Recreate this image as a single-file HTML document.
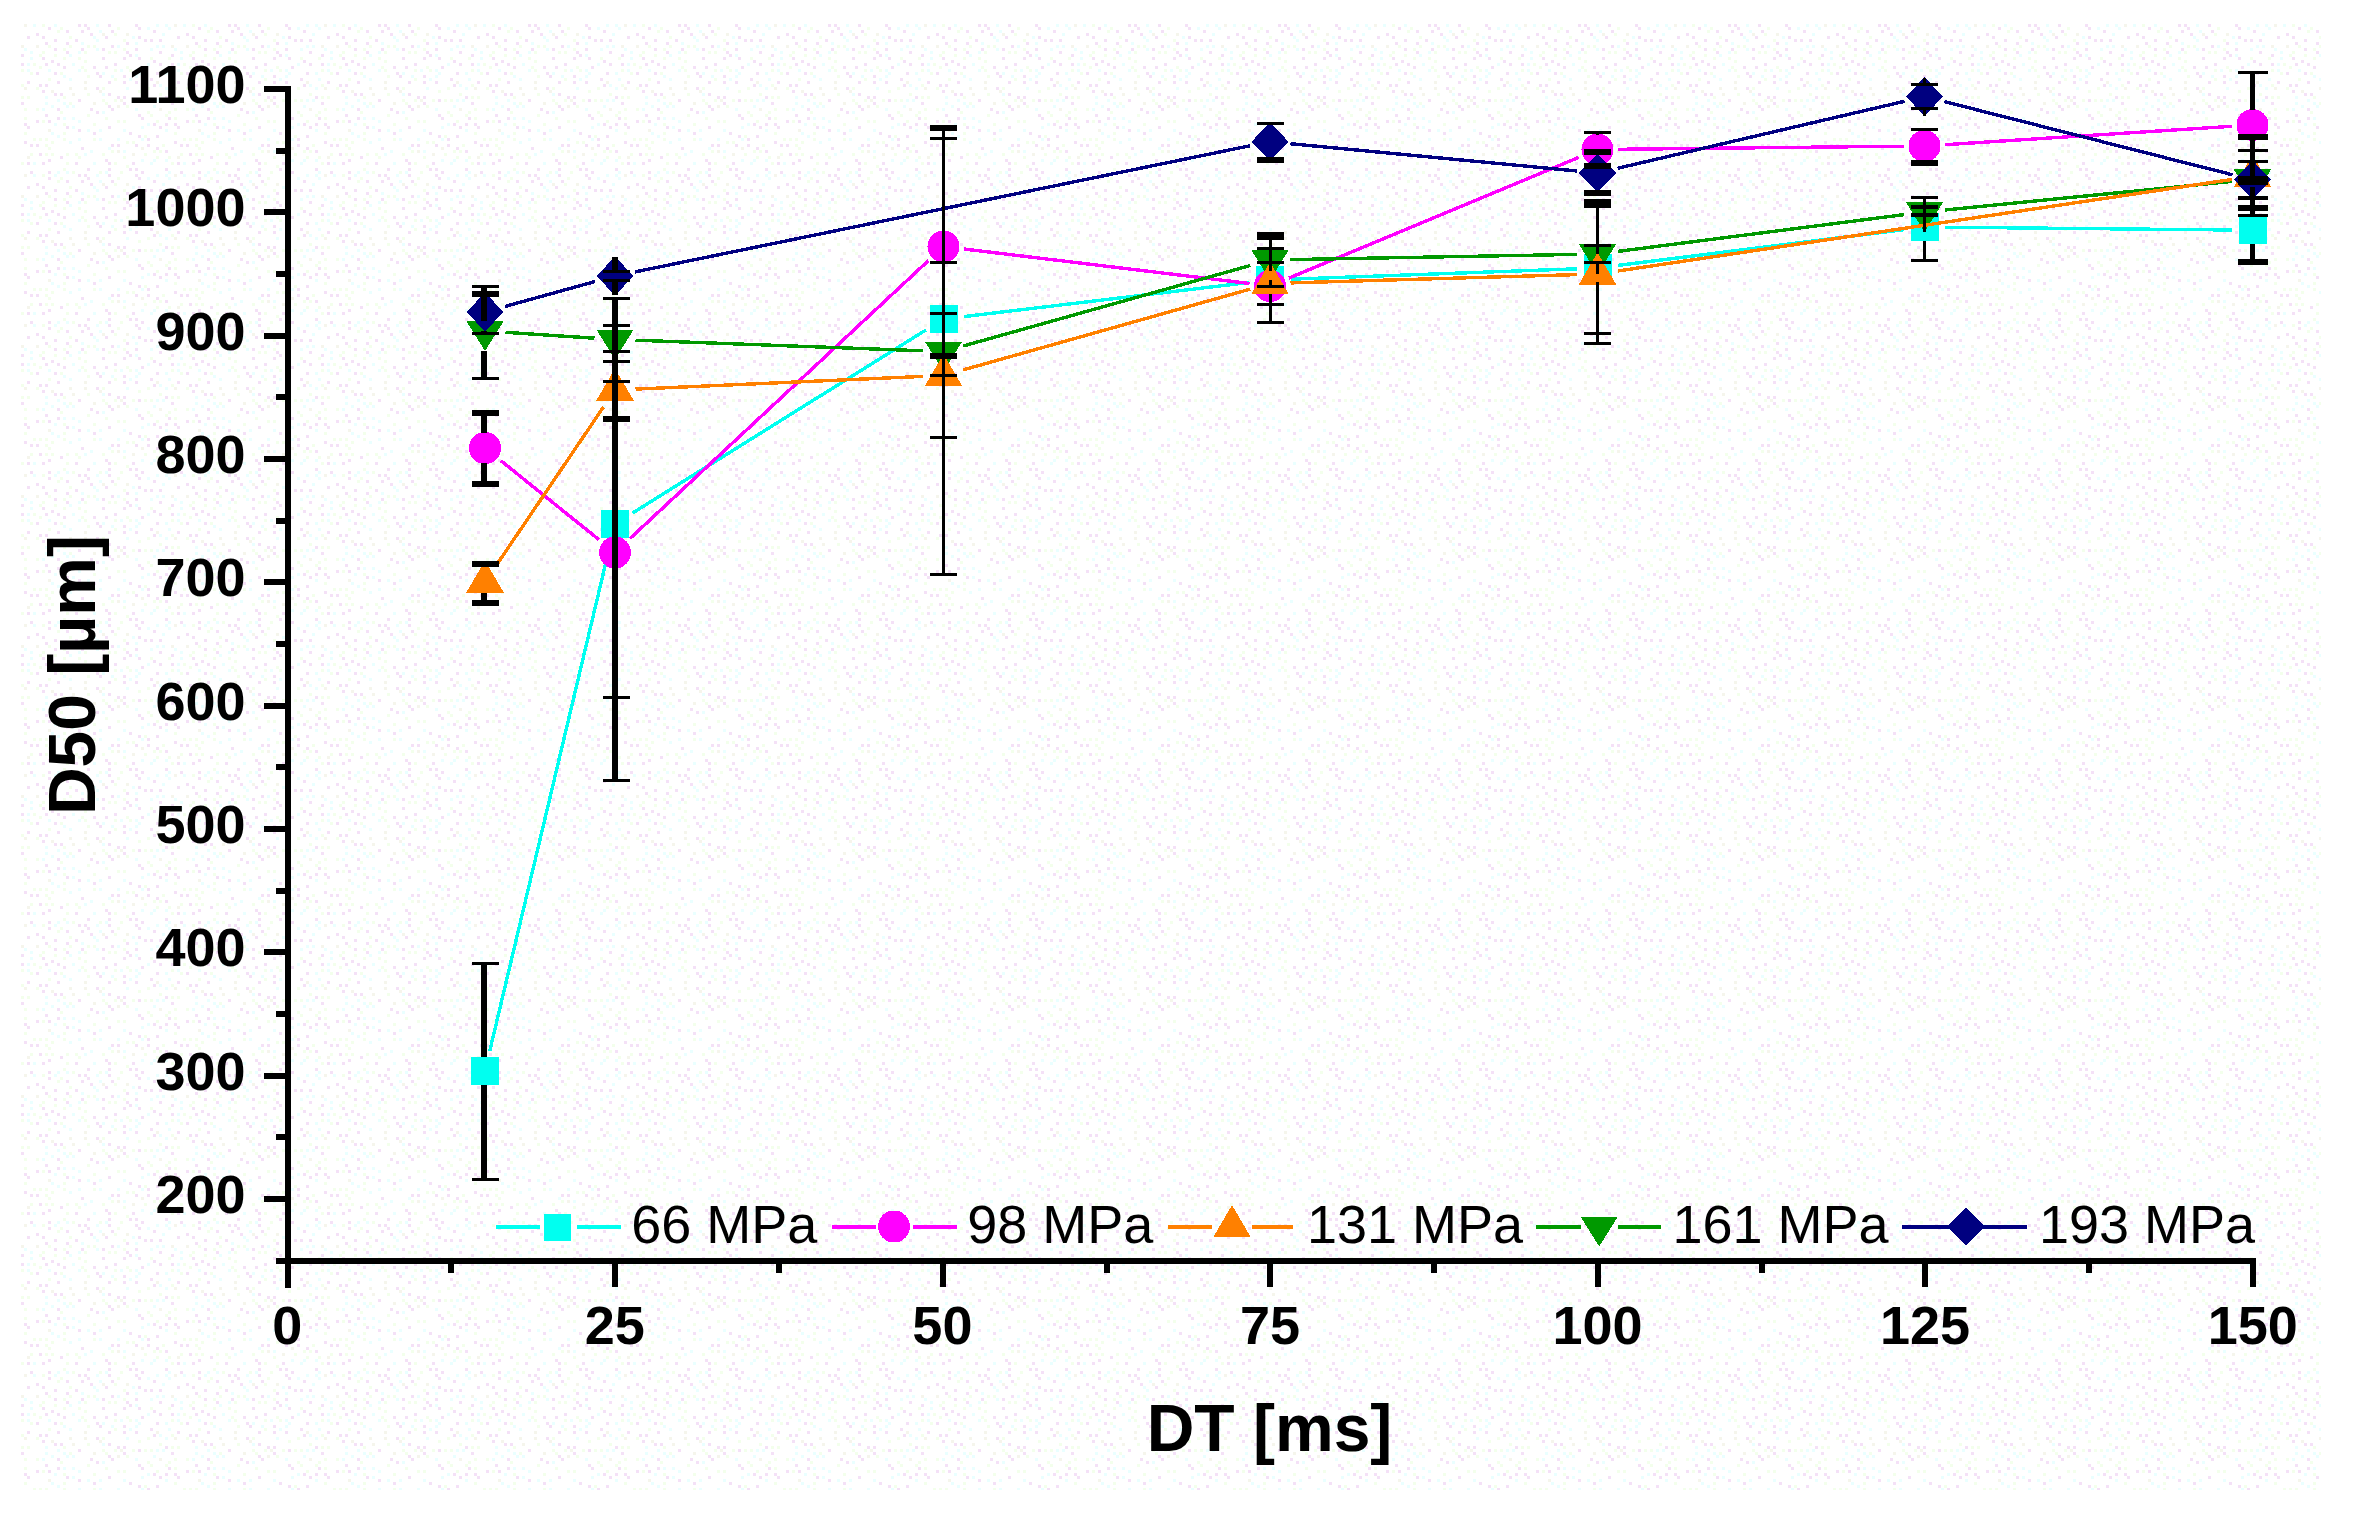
<!DOCTYPE html>
<html><head><meta charset="utf-8"><title>D50 vs DT</title>
<style>
html,body{margin:0;padding:0;background:#fff;}
body{width:2357px;height:1533px;overflow:hidden;}
svg{display:block;}
text{font-family:"Liberation Sans",Arial,Helvetica,sans-serif;fill:#000;}
.tk{font-size:54px;font-weight:bold;}
.ti{font-size:66px;font-weight:bold;}
.lg{font-size:54px;}
</style></head><body>
<svg width="2357" height="1533" viewBox="0 0 2357 1533">
<defs><pattern id="dz" x="21" y="24" width="150" height="150" patternUnits="userSpaceOnUse"><rect x="3" y="0" width="3" height="3" fill="#f5f5ec"/><rect x="12" y="0" width="3" height="3" fill="#eaffff"/><rect x="21" y="0" width="3" height="3" fill="#f3ffec"/><rect x="33" y="0" width="3" height="3" fill="#eaffff"/><rect x="57" y="0" width="3" height="3" fill="#f4e1f7"/><rect x="63" y="0" width="3" height="3" fill="#f4e1f7"/><rect x="75" y="0" width="3" height="3" fill="#eaffff"/><rect x="87" y="0" width="3" height="3" fill="#f4e1f7"/><rect x="114" y="0" width="3" height="3" fill="#f4e1f7"/><rect x="135" y="0" width="3" height="3" fill="#eaffff"/><rect x="144" y="0" width="3" height="3" fill="#eaffff"/><rect x="27" y="3" width="3" height="3" fill="#f4e1f7"/><rect x="39" y="3" width="3" height="3" fill="#f3ffec"/><rect x="66" y="3" width="3" height="3" fill="#f4e1f7"/><rect x="96" y="3" width="3" height="3" fill="#f3ffec"/><rect x="117" y="3" width="3" height="3" fill="#f4e1f7"/><rect x="126" y="3" width="3" height="3" fill="#eaffff"/><rect x="147" y="3" width="3" height="3" fill="#eaffff"/><rect x="36" y="6" width="3" height="3" fill="#f3ffec"/><rect x="45" y="6" width="3" height="3" fill="#f4e1f7"/><rect x="60" y="6" width="3" height="3" fill="#f4e1f7"/><rect x="78" y="6" width="3" height="3" fill="#eaffff"/><rect x="90" y="6" width="3" height="3" fill="#f4e1f7"/><rect x="132" y="6" width="3" height="3" fill="#f4e1f7"/><rect x="15" y="9" width="3" height="3" fill="#f4e1f7"/><rect x="69" y="9" width="3" height="3" fill="#f4e1f7"/><rect x="81" y="9" width="3" height="3" fill="#f5f5ec"/><rect x="93" y="9" width="3" height="3" fill="#f3ffec"/><rect x="105" y="9" width="3" height="3" fill="#f5f5ec"/><rect x="141" y="9" width="3" height="3" fill="#eaffff"/><rect x="6" y="12" width="3" height="3" fill="#f4e1f7"/><rect x="21" y="12" width="3" height="3" fill="#f4e1f7"/><rect x="48" y="12" width="3" height="3" fill="#f3ffec"/><rect x="72" y="12" width="3" height="3" fill="#eaffff"/><rect x="84" y="12" width="3" height="3" fill="#f4e1f7"/><rect x="111" y="12" width="3" height="3" fill="#eaffff"/><rect x="117" y="12" width="3" height="3" fill="#f4e1f7"/><rect x="33" y="15" width="3" height="3" fill="#f4e1f7"/><rect x="54" y="15" width="3" height="3" fill="#f4e1f7"/><rect x="75" y="15" width="3" height="3" fill="#eaffff"/><rect x="102" y="15" width="3" height="3" fill="#f3ffec"/><rect x="123" y="15" width="3" height="3" fill="#f4e1f7"/><rect x="129" y="15" width="3" height="3" fill="#f4e1f7"/><rect x="138" y="15" width="3" height="3" fill="#f4e1f7"/><rect x="24" y="18" width="3" height="3" fill="#f4e1f7"/><rect x="45" y="18" width="3" height="3" fill="#f4e1f7"/><rect x="60" y="18" width="3" height="3" fill="#eaffff"/><rect x="105" y="18" width="3" height="3" fill="#f4e1f7"/><rect x="114" y="18" width="3" height="3" fill="#eaffff"/><rect x="0" y="21" width="3" height="3" fill="#f5f5ec"/><rect x="15" y="21" width="3" height="3" fill="#f5f5ec"/><rect x="27" y="21" width="3" height="3" fill="#f3ffec"/><rect x="48" y="21" width="3" height="3" fill="#f3ffec"/><rect x="66" y="21" width="3" height="3" fill="#f3ffec"/><rect x="72" y="21" width="3" height="3" fill="#f3ffec"/><rect x="90" y="21" width="3" height="3" fill="#f4e1f7"/><rect x="96" y="21" width="3" height="3" fill="#eaffff"/><rect x="135" y="21" width="3" height="3" fill="#eaffff"/><rect x="141" y="21" width="3" height="3" fill="#eaffff"/><rect x="3" y="24" width="3" height="3" fill="#eaffff"/><rect x="33" y="24" width="3" height="3" fill="#f4e1f7"/><rect x="42" y="24" width="3" height="3" fill="#f3ffec"/><rect x="60" y="24" width="3" height="3" fill="#f4e1f7"/><rect x="75" y="24" width="3" height="3" fill="#eaffff"/><rect x="81" y="24" width="3" height="3" fill="#f4e1f7"/><rect x="102" y="24" width="3" height="3" fill="#f3ffec"/><rect x="114" y="24" width="3" height="3" fill="#f4e1f7"/><rect x="129" y="24" width="3" height="3" fill="#eaffff"/><rect x="9" y="27" width="3" height="3" fill="#eaffff"/><rect x="21" y="27" width="3" height="3" fill="#f3ffec"/><rect x="45" y="27" width="3" height="3" fill="#f4e1f7"/><rect x="57" y="27" width="3" height="3" fill="#eaffff"/><rect x="63" y="27" width="3" height="3" fill="#f3ffec"/><rect x="87" y="27" width="3" height="3" fill="#f3ffec"/><rect x="93" y="27" width="3" height="3" fill="#f3ffec"/><rect x="105" y="27" width="3" height="3" fill="#f4e1f7"/><rect x="138" y="27" width="3" height="3" fill="#f4e1f7"/><rect x="0" y="30" width="3" height="3" fill="#f4e1f7"/><rect x="18" y="30" width="3" height="3" fill="#f3ffec"/><rect x="33" y="30" width="3" height="3" fill="#f3ffec"/><rect x="48" y="30" width="3" height="3" fill="#eaffff"/><rect x="108" y="30" width="3" height="3" fill="#f4e1f7"/><rect x="114" y="30" width="3" height="3" fill="#eaffff"/><rect x="9" y="33" width="3" height="3" fill="#eaffff"/><rect x="21" y="33" width="3" height="3" fill="#f4e1f7"/><rect x="42" y="33" width="3" height="3" fill="#f3ffec"/><rect x="57" y="33" width="3" height="3" fill="#f3ffec"/><rect x="81" y="33" width="3" height="3" fill="#f4e1f7"/><rect x="102" y="33" width="3" height="3" fill="#f4e1f7"/><rect x="117" y="33" width="3" height="3" fill="#f4e1f7"/><rect x="129" y="33" width="3" height="3" fill="#f3ffec"/><rect x="147" y="33" width="3" height="3" fill="#f3ffec"/><rect x="30" y="36" width="3" height="3" fill="#f4e1f7"/><rect x="63" y="36" width="3" height="3" fill="#f3ffec"/><rect x="132" y="36" width="3" height="3" fill="#f4e1f7"/><rect x="0" y="39" width="3" height="3" fill="#f4e1f7"/><rect x="6" y="39" width="3" height="3" fill="#eaffff"/><rect x="12" y="39" width="3" height="3" fill="#f3ffec"/><rect x="24" y="39" width="3" height="3" fill="#f4e1f7"/><rect x="36" y="39" width="3" height="3" fill="#f4e1f7"/><rect x="51" y="39" width="3" height="3" fill="#eaffff"/><rect x="93" y="39" width="3" height="3" fill="#f4e1f7"/><rect x="126" y="39" width="3" height="3" fill="#eaffff"/><rect x="138" y="39" width="3" height="3" fill="#f4e1f7"/><rect x="18" y="42" width="3" height="3" fill="#f3ffec"/><rect x="42" y="42" width="3" height="3" fill="#f4e1f7"/><rect x="60" y="42" width="3" height="3" fill="#f3ffec"/><rect x="72" y="42" width="3" height="3" fill="#f4e1f7"/><rect x="84" y="42" width="3" height="3" fill="#f4e1f7"/><rect x="105" y="42" width="3" height="3" fill="#f3ffec"/><rect x="120" y="42" width="3" height="3" fill="#f4e1f7"/><rect x="0" y="45" width="3" height="3" fill="#f3ffec"/><rect x="6" y="45" width="3" height="3" fill="#eaffff"/><rect x="27" y="45" width="3" height="3" fill="#eaffff"/><rect x="57" y="45" width="3" height="3" fill="#eaffff"/><rect x="63" y="45" width="3" height="3" fill="#f3ffec"/><rect x="93" y="45" width="3" height="3" fill="#f3ffec"/><rect x="99" y="45" width="3" height="3" fill="#eaffff"/><rect x="108" y="45" width="3" height="3" fill="#f3ffec"/><rect x="114" y="45" width="3" height="3" fill="#eaffff"/><rect x="9" y="48" width="3" height="3" fill="#f3ffec"/><rect x="15" y="48" width="3" height="3" fill="#f4e1f7"/><rect x="33" y="48" width="3" height="3" fill="#f4e1f7"/><rect x="39" y="48" width="3" height="3" fill="#f3ffec"/><rect x="75" y="48" width="3" height="3" fill="#f4e1f7"/><rect x="81" y="48" width="3" height="3" fill="#eaffff"/><rect x="117" y="48" width="3" height="3" fill="#eaffff"/><rect x="135" y="48" width="3" height="3" fill="#f4e1f7"/><rect x="144" y="48" width="3" height="3" fill="#eaffff"/><rect x="42" y="51" width="3" height="3" fill="#eaffff"/><rect x="66" y="51" width="3" height="3" fill="#f3ffec"/><rect x="78" y="51" width="3" height="3" fill="#f4e1f7"/><rect x="90" y="51" width="3" height="3" fill="#eaffff"/><rect x="102" y="51" width="3" height="3" fill="#f4e1f7"/><rect x="114" y="51" width="3" height="3" fill="#eaffff"/><rect x="27" y="54" width="3" height="3" fill="#f3ffec"/><rect x="48" y="54" width="3" height="3" fill="#eaffff"/><rect x="93" y="54" width="3" height="3" fill="#f3ffec"/><rect x="108" y="54" width="3" height="3" fill="#eaffff"/><rect x="129" y="54" width="3" height="3" fill="#f4e1f7"/><rect x="147" y="54" width="3" height="3" fill="#eaffff"/><rect x="6" y="57" width="3" height="3" fill="#f4e1f7"/><rect x="36" y="57" width="3" height="3" fill="#f4e1f7"/><rect x="63" y="57" width="3" height="3" fill="#f5f5ec"/><rect x="87" y="57" width="3" height="3" fill="#f4e1f7"/><rect x="102" y="57" width="3" height="3" fill="#f4e1f7"/><rect x="114" y="57" width="3" height="3" fill="#f4e1f7"/><rect x="135" y="57" width="3" height="3" fill="#f5f5ec"/><rect x="0" y="60" width="3" height="3" fill="#f3ffec"/><rect x="18" y="60" width="3" height="3" fill="#f4e1f7"/><rect x="24" y="60" width="3" height="3" fill="#f4e1f7"/><rect x="132" y="60" width="3" height="3" fill="#f4e1f7"/><rect x="138" y="60" width="3" height="3" fill="#eaffff"/><rect x="3" y="63" width="3" height="3" fill="#f5f5ec"/><rect x="15" y="63" width="3" height="3" fill="#f3ffec"/><rect x="48" y="63" width="3" height="3" fill="#f5f5ec"/><rect x="63" y="63" width="3" height="3" fill="#f5f5ec"/><rect x="75" y="63" width="3" height="3" fill="#f4e1f7"/><rect x="81" y="63" width="3" height="3" fill="#f3ffec"/><rect x="105" y="63" width="3" height="3" fill="#eaffff"/><rect x="126" y="63" width="3" height="3" fill="#f3ffec"/><rect x="144" y="63" width="3" height="3" fill="#eaffff"/><rect x="21" y="66" width="3" height="3" fill="#f4e1f7"/><rect x="30" y="66" width="3" height="3" fill="#f5f5ec"/><rect x="78" y="66" width="3" height="3" fill="#f5f5ec"/><rect x="117" y="66" width="3" height="3" fill="#f3ffec"/><rect x="33" y="69" width="3" height="3" fill="#f4e1f7"/><rect x="39" y="69" width="3" height="3" fill="#f4e1f7"/><rect x="51" y="69" width="3" height="3" fill="#f5f5ec"/><rect x="66" y="69" width="3" height="3" fill="#f3ffec"/><rect x="81" y="69" width="3" height="3" fill="#eaffff"/><rect x="87" y="69" width="3" height="3" fill="#f4e1f7"/><rect x="138" y="69" width="3" height="3" fill="#f3ffec"/><rect x="0" y="72" width="3" height="3" fill="#f3ffec"/><rect x="6" y="72" width="3" height="3" fill="#f3ffec"/><rect x="24" y="72" width="3" height="3" fill="#eaffff"/><rect x="42" y="72" width="3" height="3" fill="#f3ffec"/><rect x="96" y="72" width="3" height="3" fill="#f4e1f7"/><rect x="102" y="72" width="3" height="3" fill="#f4e1f7"/><rect x="144" y="72" width="3" height="3" fill="#f4e1f7"/><rect x="36" y="75" width="3" height="3" fill="#eaffff"/><rect x="57" y="75" width="3" height="3" fill="#f4e1f7"/><rect x="81" y="75" width="3" height="3" fill="#f3ffec"/><rect x="93" y="75" width="3" height="3" fill="#f3ffec"/><rect x="99" y="75" width="3" height="3" fill="#f5f5ec"/><rect x="111" y="75" width="3" height="3" fill="#f3ffec"/><rect x="117" y="75" width="3" height="3" fill="#f4e1f7"/><rect x="123" y="75" width="3" height="3" fill="#f3ffec"/><rect x="129" y="75" width="3" height="3" fill="#f3ffec"/><rect x="135" y="75" width="3" height="3" fill="#eaffff"/><rect x="141" y="75" width="3" height="3" fill="#eaffff"/><rect x="0" y="78" width="3" height="3" fill="#f4e1f7"/><rect x="24" y="78" width="3" height="3" fill="#eaffff"/><rect x="42" y="78" width="3" height="3" fill="#eaffff"/><rect x="48" y="78" width="3" height="3" fill="#f3ffec"/><rect x="72" y="78" width="3" height="3" fill="#f5f5ec"/><rect x="84" y="78" width="3" height="3" fill="#f3ffec"/><rect x="102" y="78" width="3" height="3" fill="#f4e1f7"/><rect x="30" y="81" width="3" height="3" fill="#eaffff"/><rect x="45" y="81" width="3" height="3" fill="#eaffff"/><rect x="51" y="81" width="3" height="3" fill="#eaffff"/><rect x="87" y="81" width="3" height="3" fill="#f4e1f7"/><rect x="96" y="81" width="3" height="3" fill="#f5f5ec"/><rect x="105" y="81" width="3" height="3" fill="#f3ffec"/><rect x="132" y="81" width="3" height="3" fill="#eaffff"/><rect x="3" y="84" width="3" height="3" fill="#f3ffec"/><rect x="15" y="84" width="3" height="3" fill="#f3ffec"/><rect x="21" y="84" width="3" height="3" fill="#eaffff"/><rect x="36" y="84" width="3" height="3" fill="#f4e1f7"/><rect x="69" y="84" width="3" height="3" fill="#f4e1f7"/><rect x="90" y="84" width="3" height="3" fill="#f4e1f7"/><rect x="114" y="84" width="3" height="3" fill="#eaffff"/><rect x="138" y="84" width="3" height="3" fill="#f5f5ec"/><rect x="39" y="87" width="3" height="3" fill="#f3ffec"/><rect x="75" y="87" width="3" height="3" fill="#f4e1f7"/><rect x="81" y="87" width="3" height="3" fill="#eaffff"/><rect x="126" y="87" width="3" height="3" fill="#f3ffec"/><rect x="147" y="87" width="3" height="3" fill="#f3ffec"/><rect x="24" y="90" width="3" height="3" fill="#f4e1f7"/><rect x="66" y="90" width="3" height="3" fill="#f3ffec"/><rect x="117" y="90" width="3" height="3" fill="#f4e1f7"/><rect x="129" y="90" width="3" height="3" fill="#f3ffec"/><rect x="144" y="90" width="3" height="3" fill="#f3ffec"/><rect x="3" y="93" width="3" height="3" fill="#f3ffec"/><rect x="36" y="93" width="3" height="3" fill="#f4e1f7"/><rect x="42" y="93" width="3" height="3" fill="#eaffff"/><rect x="51" y="93" width="3" height="3" fill="#eaffff"/><rect x="84" y="93" width="3" height="3" fill="#f3ffec"/><rect x="120" y="93" width="3" height="3" fill="#f4e1f7"/><rect x="147" y="93" width="3" height="3" fill="#f4e1f7"/><rect x="15" y="96" width="3" height="3" fill="#f4e1f7"/><rect x="21" y="96" width="3" height="3" fill="#f3ffec"/><rect x="27" y="96" width="3" height="3" fill="#f4e1f7"/><rect x="57" y="96" width="3" height="3" fill="#eaffff"/><rect x="96" y="96" width="3" height="3" fill="#f3ffec"/><rect x="102" y="96" width="3" height="3" fill="#f3ffec"/><rect x="135" y="96" width="3" height="3" fill="#f3ffec"/><rect x="3" y="99" width="3" height="3" fill="#f4e1f7"/><rect x="33" y="99" width="3" height="3" fill="#eaffff"/><rect x="42" y="99" width="3" height="3" fill="#f3ffec"/><rect x="72" y="99" width="3" height="3" fill="#f3ffec"/><rect x="126" y="99" width="3" height="3" fill="#eaffff"/><rect x="132" y="99" width="3" height="3" fill="#f4e1f7"/><rect x="144" y="99" width="3" height="3" fill="#f4e1f7"/><rect x="6" y="102" width="3" height="3" fill="#f4e1f7"/><rect x="45" y="102" width="3" height="3" fill="#f4e1f7"/><rect x="51" y="102" width="3" height="3" fill="#eaffff"/><rect x="87" y="102" width="3" height="3" fill="#f4e1f7"/><rect x="120" y="102" width="3" height="3" fill="#eaffff"/><rect x="138" y="102" width="3" height="3" fill="#f4e1f7"/><rect x="27" y="105" width="3" height="3" fill="#f5f5ec"/><rect x="57" y="105" width="3" height="3" fill="#f4e1f7"/><rect x="66" y="105" width="3" height="3" fill="#eaffff"/><rect x="78" y="105" width="3" height="3" fill="#eaffff"/><rect x="102" y="105" width="3" height="3" fill="#eaffff"/><rect x="144" y="105" width="3" height="3" fill="#eaffff"/><rect x="3" y="108" width="3" height="3" fill="#f3ffec"/><rect x="30" y="108" width="3" height="3" fill="#eaffff"/><rect x="42" y="108" width="3" height="3" fill="#f3ffec"/><rect x="72" y="108" width="3" height="3" fill="#f4e1f7"/><rect x="108" y="108" width="3" height="3" fill="#f4e1f7"/><rect x="36" y="111" width="3" height="3" fill="#eaffff"/><rect x="117" y="111" width="3" height="3" fill="#f4e1f7"/><rect x="123" y="111" width="3" height="3" fill="#f3ffec"/><rect x="135" y="111" width="3" height="3" fill="#f4e1f7"/><rect x="12" y="114" width="3" height="3" fill="#f3ffec"/><rect x="18" y="114" width="3" height="3" fill="#f3ffec"/><rect x="24" y="114" width="3" height="3" fill="#f3ffec"/><rect x="42" y="114" width="3" height="3" fill="#f3ffec"/><rect x="57" y="114" width="3" height="3" fill="#eaffff"/><rect x="72" y="114" width="3" height="3" fill="#f3ffec"/><rect x="78" y="114" width="3" height="3" fill="#eaffff"/><rect x="96" y="114" width="3" height="3" fill="#eaffff"/><rect x="120" y="114" width="3" height="3" fill="#eaffff"/><rect x="126" y="114" width="3" height="3" fill="#f4e1f7"/><rect x="3" y="117" width="3" height="3" fill="#f4e1f7"/><rect x="30" y="117" width="3" height="3" fill="#f3ffec"/><rect x="48" y="117" width="3" height="3" fill="#eaffff"/><rect x="105" y="117" width="3" height="3" fill="#f3ffec"/><rect x="111" y="117" width="3" height="3" fill="#f3ffec"/><rect x="9" y="120" width="3" height="3" fill="#f4e1f7"/><rect x="15" y="120" width="3" height="3" fill="#f4e1f7"/><rect x="24" y="120" width="3" height="3" fill="#f3ffec"/><rect x="90" y="120" width="3" height="3" fill="#f4e1f7"/><rect x="96" y="120" width="3" height="3" fill="#f4e1f7"/><rect x="114" y="120" width="3" height="3" fill="#f4e1f7"/><rect x="126" y="120" width="3" height="3" fill="#f4e1f7"/><rect x="141" y="120" width="3" height="3" fill="#f3ffec"/><rect x="27" y="123" width="3" height="3" fill="#f3ffec"/><rect x="60" y="123" width="3" height="3" fill="#f4e1f7"/><rect x="87" y="123" width="3" height="3" fill="#eaffff"/><rect x="120" y="123" width="3" height="3" fill="#f5f5ec"/><rect x="135" y="123" width="3" height="3" fill="#f4e1f7"/><rect x="69" y="126" width="3" height="3" fill="#eaffff"/><rect x="90" y="126" width="3" height="3" fill="#f3ffec"/><rect x="96" y="126" width="3" height="3" fill="#f5f5ec"/><rect x="102" y="126" width="3" height="3" fill="#eaffff"/><rect x="132" y="126" width="3" height="3" fill="#f3ffec"/><rect x="138" y="126" width="3" height="3" fill="#f3ffec"/><rect x="144" y="126" width="3" height="3" fill="#f4e1f7"/><rect x="9" y="129" width="3" height="3" fill="#f3ffec"/><rect x="18" y="129" width="3" height="3" fill="#f4e1f7"/><rect x="24" y="129" width="3" height="3" fill="#f3ffec"/><rect x="30" y="129" width="3" height="3" fill="#f3ffec"/><rect x="45" y="129" width="3" height="3" fill="#f3ffec"/><rect x="54" y="129" width="3" height="3" fill="#f3ffec"/><rect x="63" y="129" width="3" height="3" fill="#eaffff"/><rect x="81" y="129" width="3" height="3" fill="#f3ffec"/><rect x="111" y="129" width="3" height="3" fill="#f5f5ec"/><rect x="123" y="129" width="3" height="3" fill="#f3ffec"/><rect x="6" y="132" width="3" height="3" fill="#f5f5ec"/><rect x="39" y="132" width="3" height="3" fill="#f4e1f7"/><rect x="57" y="132" width="3" height="3" fill="#f3ffec"/><rect x="102" y="132" width="3" height="3" fill="#f3ffec"/><rect x="135" y="132" width="3" height="3" fill="#f3ffec"/><rect x="147" y="132" width="3" height="3" fill="#f3ffec"/><rect x="27" y="135" width="3" height="3" fill="#f4e1f7"/><rect x="84" y="135" width="3" height="3" fill="#f4e1f7"/><rect x="120" y="135" width="3" height="3" fill="#eaffff"/><rect x="132" y="135" width="3" height="3" fill="#eaffff"/><rect x="144" y="135" width="3" height="3" fill="#eaffff"/><rect x="0" y="138" width="3" height="3" fill="#f3ffec"/><rect x="6" y="138" width="3" height="3" fill="#f4e1f7"/><rect x="12" y="138" width="3" height="3" fill="#eaffff"/><rect x="21" y="138" width="3" height="3" fill="#f4e1f7"/><rect x="45" y="138" width="3" height="3" fill="#f3ffec"/><rect x="54" y="138" width="3" height="3" fill="#f4e1f7"/><rect x="72" y="138" width="3" height="3" fill="#eaffff"/><rect x="87" y="138" width="3" height="3" fill="#f4e1f7"/><rect x="93" y="138" width="3" height="3" fill="#f3ffec"/><rect x="111" y="138" width="3" height="3" fill="#f4e1f7"/><rect x="129" y="138" width="3" height="3" fill="#eaffff"/><rect x="105" y="141" width="3" height="3" fill="#f3ffec"/><rect x="42" y="144" width="3" height="3" fill="#f3ffec"/><rect x="66" y="144" width="3" height="3" fill="#f4e1f7"/><rect x="87" y="144" width="3" height="3" fill="#f4e1f7"/><rect x="108" y="144" width="3" height="3" fill="#f4e1f7"/><rect x="114" y="144" width="3" height="3" fill="#f4e1f7"/><rect x="144" y="144" width="3" height="3" fill="#f4e1f7"/><rect x="9" y="147" width="3" height="3" fill="#f4e1f7"/><rect x="27" y="147" width="3" height="3" fill="#f4e1f7"/><rect x="36" y="147" width="3" height="3" fill="#eaffff"/><rect x="45" y="147" width="3" height="3" fill="#eaffff"/><rect x="51" y="147" width="3" height="3" fill="#f3ffec"/><rect x="78" y="147" width="3" height="3" fill="#f3ffec"/><rect x="84" y="147" width="3" height="3" fill="#eaffff"/><rect x="99" y="147" width="3" height="3" fill="#f3ffec"/><rect x="120" y="147" width="3" height="3" fill="#f4e1f7"/><rect x="147" y="147" width="3" height="3" fill="#eaffff"/></pattern></defs>
<rect x="0" y="0" width="2357" height="1533" fill="#fff"/>
<rect x="21" y="24" width="2300" height="1466" fill="url(#dz)"/>
<g shape-rendering="crispEdges">
<g id="symbols"><line x1="489.7" y1="1051.1" x2="610.3" y2="543.9" stroke="#00fff0" stroke-width="3.4"/><line x1="632.4" y1="513.1" x2="926.1" y2="329.9" stroke="#00fff0" stroke-width="3.4"/><line x1="963.9" y1="316.6" x2="1249.6" y2="282.4" stroke="#00fff0" stroke-width="3.4"/><line x1="1290.5" y1="279.2" x2="1577.0" y2="268.8" stroke="#00fff0" stroke-width="3.4"/><line x1="1617.8" y1="265.4" x2="1904.2" y2="229.6" stroke="#00fff0" stroke-width="3.4"/><line x1="1945.0" y1="227.2" x2="2232.0" y2="230.0" stroke="#00fff0" stroke-width="3.4"/><rect x="471.0" y="1057.0" width="28" height="28" fill="#00fff0"/><rect x="601.0" y="510.0" width="28" height="28" fill="#00fff0"/><rect x="929.5" y="305.0" width="28" height="28" fill="#00fff0"/><rect x="1256.0" y="266.0" width="28" height="28" fill="#00fff0"/><rect x="1583.5" y="254.0" width="28" height="28" fill="#00fff0"/><rect x="1910.5" y="213.0" width="28" height="28" fill="#00fff0"/><rect x="2238.5" y="216.2" width="28" height="28" fill="#00fff0"/><line x1="501.0" y1="460.8" x2="599.0" y2="539.7" stroke="#ff00ff" stroke-width="3.4"/><line x1="630.0" y1="538.5" x2="928.5" y2="260.5" stroke="#ff00ff" stroke-width="3.4"/><line x1="963.9" y1="249.0" x2="1249.6" y2="283.5" stroke="#ff00ff" stroke-width="3.4"/><line x1="1288.9" y1="278.1" x2="1578.6" y2="157.4" stroke="#ff00ff" stroke-width="3.4"/><line x1="1618.0" y1="149.3" x2="1904.0" y2="146.2" stroke="#ff00ff" stroke-width="3.4"/><line x1="1945.0" y1="144.7" x2="2232.0" y2="126.3" stroke="#ff00ff" stroke-width="3.4"/><circle cx="485.0" cy="448.0" r="16" fill="#ff00ff"/><circle cx="615.0" cy="552.5" r="16" fill="#ff00ff"/><circle cx="943.5" cy="246.5" r="16" fill="#ff00ff"/><circle cx="1270.0" cy="286.0" r="16" fill="#ff00ff"/><circle cx="1597.5" cy="149.5" r="16" fill="#ff00ff"/><circle cx="1924.5" cy="146.0" r="16" fill="#ff00ff"/><circle cx="2252.5" cy="125.0" r="16" fill="#ff00ff"/><line x1="505.5" y1="332.3" x2="594.5" y2="338.2" stroke="#009900" stroke-width="3.4"/><line x1="635.5" y1="340.2" x2="923.0" y2="350.8" stroke="#009900" stroke-width="3.4"/><line x1="963.2" y1="346.0" x2="1250.3" y2="265.5" stroke="#009900" stroke-width="3.4"/><line x1="1290.5" y1="259.6" x2="1577.0" y2="254.4" stroke="#009900" stroke-width="3.4"/><line x1="1617.8" y1="251.4" x2="1904.2" y2="214.6" stroke="#009900" stroke-width="3.4"/><line x1="1944.9" y1="210.0" x2="2232.1" y2="181.4" stroke="#009900" stroke-width="3.4"/><polygon points="466.3,321.0 503.7,321.0 485.0,351.0" fill="#009900"/><polygon points="596.3,329.5 633.7,329.5 615.0,359.5" fill="#009900"/><polygon points="924.8,341.5 962.2,341.5 943.5,371.5" fill="#009900"/><polygon points="1251.3,250.0 1288.7,250.0 1270.0,280.0" fill="#009900"/><polygon points="1578.8,244.0 1616.2,244.0 1597.5,274.0" fill="#009900"/><polygon points="1905.8,202.0 1943.2,202.0 1924.5,232.0" fill="#009900"/><polygon points="2233.8,169.4 2271.2,169.4 2252.5,199.4" fill="#009900"/><line x1="496.5" y1="565.0" x2="603.5" y2="407.0" stroke="#ff8000" stroke-width="3.4"/><line x1="635.5" y1="389.1" x2="923.0" y2="376.4" stroke="#ff8000" stroke-width="3.4"/><line x1="963.2" y1="369.9" x2="1250.3" y2="289.1" stroke="#ff8000" stroke-width="3.4"/><line x1="1290.5" y1="282.9" x2="1577.0" y2="274.6" stroke="#ff8000" stroke-width="3.4"/><line x1="1617.8" y1="271.0" x2="2232.2" y2="179.4" stroke="#ff8000" stroke-width="3.4"/><polygon points="485.0,560.5 503.7,592.5 466.3,592.5" fill="#ff8000"/><polygon points="615.0,368.5 633.7,400.5 596.3,400.5" fill="#ff8000"/><polygon points="943.5,354.0 962.2,386.0 924.8,386.0" fill="#ff8000"/><polygon points="1270.0,262.0 1288.7,294.0 1251.3,294.0" fill="#ff8000"/><polygon points="1597.5,252.5 1616.2,284.5 1578.8,284.5" fill="#ff8000"/><polygon points="2252.5,154.9 2271.2,186.9 2233.8,186.9" fill="#ff8000"/><line x1="504.8" y1="306.5" x2="595.2" y2="281.5" stroke="#000080" stroke-width="3.4"/><line x1="635.1" y1="271.9" x2="1249.9" y2="145.8" stroke="#000080" stroke-width="3.4"/><line x1="1290.4" y1="143.7" x2="1577.1" y2="171.0" stroke="#000080" stroke-width="3.4"/><line x1="1617.5" y1="168.3" x2="1904.5" y2="101.3" stroke="#000080" stroke-width="3.4"/><line x1="1944.4" y1="101.6" x2="2232.6" y2="174.8" stroke="#000080" stroke-width="3.4"/><polygon points="485.0,292.5 503.5,312.0 485.0,331.5 466.5,312.0" fill="#000080"/><polygon points="615.0,256.5 633.5,276.0 615.0,295.5 596.5,276.0" fill="#000080"/><polygon points="1270.0,122.2 1288.5,141.7 1270.0,161.2 1251.5,141.7" fill="#000080"/><polygon points="1597.5,153.5 1616.0,173.0 1597.5,192.5 1579.0,173.0" fill="#000080"/><polygon points="1924.5,77.1 1943.0,96.6 1924.5,116.1 1906.0,96.6" fill="#000080"/><polygon points="2252.5,160.3 2271.0,179.8 2252.5,199.3 2234.0,179.8" fill="#000080"/></g>
<g id="errorbars" fill="#000"><rect x="481.0" y="963.5" width="6" height="93.5"/><rect x="481.0" y="1085.0" width="6" height="94.0"/><rect x="472.0" y="962.0" width="27" height="3"/><rect x="472.0" y="1177.5" width="27" height="3"/><rect x="612.0" y="351.5" width="6" height="158.5"/><rect x="612.0" y="538.0" width="6" height="159.5"/><rect x="602.5" y="350.0" width="27" height="3"/><rect x="602.5" y="696.0" width="27" height="3"/><rect x="942.0" y="262.5" width="3" height="42.5"/><rect x="942.0" y="333.0" width="3" height="42.5"/><rect x="930.0" y="261.0" width="27" height="3"/><rect x="930.0" y="374.0" width="27" height="3"/><rect x="1268.5" y="238.0" width="3" height="28.0"/><rect x="1268.5" y="294.0" width="3" height="28.3"/><rect x="1256.5" y="236.5" width="27" height="3"/><rect x="1256.5" y="320.8" width="27" height="3"/><rect x="1596.0" y="200.7" width="3" height="53.3"/><rect x="1596.0" y="282.0" width="3" height="51.7"/><rect x="1584.0" y="199.2" width="27" height="3"/><rect x="1584.0" y="332.2" width="27" height="3"/><rect x="1923.0" y="197.8" width="3" height="15.2"/><rect x="1923.0" y="241.0" width="3" height="19.0"/><rect x="1911.0" y="196.3" width="27" height="3"/><rect x="1911.0" y="258.5" width="27" height="3"/><rect x="2250.0" y="198.5" width="5" height="17.7"/><rect x="2250.0" y="244.2" width="5" height="17.3"/><rect x="2237.5" y="197.0" width="30" height="3"/><rect x="2237.5" y="258.5" width="30" height="6"/><rect x="481.0" y="412.5" width="6" height="20.5"/><rect x="481.0" y="463.0" width="6" height="21.0"/><rect x="472.0" y="409.5" width="27" height="6"/><rect x="472.0" y="481.0" width="27" height="6"/><rect x="612.0" y="325.5" width="6" height="212.0"/><rect x="612.0" y="567.5" width="6" height="213.0"/><rect x="602.5" y="324.0" width="27" height="3"/><rect x="602.5" y="779.0" width="27" height="3"/><rect x="942.0" y="138.2" width="3" height="93.3"/><rect x="942.0" y="261.5" width="3" height="94.5"/><rect x="930.0" y="136.7" width="27" height="3"/><rect x="930.0" y="353.0" width="27" height="6"/><rect x="1268.5" y="248.0" width="3" height="23.0"/><rect x="1268.5" y="301.0" width="3" height="21.4"/><rect x="1256.5" y="246.5" width="27" height="3"/><rect x="1256.5" y="320.9" width="27" height="3"/><rect x="1596.0" y="132.5" width="3" height="2.0"/><rect x="1596.0" y="164.5" width="3" height="1.5"/><rect x="1584.0" y="131.0" width="27" height="3"/><rect x="1584.0" y="163.0" width="27" height="6"/><rect x="1923.0" y="129.7" width="3" height="1.3"/><rect x="1923.0" y="161.0" width="3" height="2.3"/><rect x="1911.0" y="128.2" width="27" height="3"/><rect x="1911.0" y="160.3" width="27" height="6"/><rect x="2250.0" y="72.9" width="5" height="37.1"/><rect x="2250.0" y="140.0" width="5" height="40.0"/><rect x="2237.5" y="71.4" width="30" height="3"/><rect x="2237.5" y="175.5" width="30" height="9"/><rect x="481.0" y="560.5" width="6" height="3.5"/><rect x="481.0" y="592.5" width="6" height="10.0"/><rect x="472.0" y="561.0" width="27" height="6"/><rect x="472.0" y="599.5" width="27" height="6"/><rect x="612.0" y="361.0" width="6" height="7.5"/><rect x="612.0" y="400.5" width="6" height="18.0"/><rect x="602.5" y="359.5" width="27" height="3"/><rect x="602.5" y="415.5" width="27" height="6"/><rect x="942.0" y="313.5" width="3" height="40.5"/><rect x="942.0" y="386.0" width="3" height="51.5"/><rect x="930.0" y="312.0" width="27" height="3"/><rect x="930.0" y="436.0" width="27" height="3"/><rect x="1268.5" y="262.0" width="3" height="0.5"/><rect x="1268.5" y="294.0" width="3" height="10.8"/><rect x="1256.5" y="261.0" width="27" height="3"/><rect x="1256.5" y="303.3" width="27" height="3"/><rect x="1596.0" y="205.0" width="3" height="47.5"/><rect x="1596.0" y="284.5" width="3" height="58.5"/><rect x="1584.0" y="202.0" width="27" height="6"/><rect x="1584.0" y="341.5" width="27" height="3"/><rect x="2250.0" y="136.7" width="5" height="18.2"/><rect x="2250.0" y="186.9" width="5" height="28.7"/><rect x="2237.5" y="133.7" width="30" height="6"/><rect x="2237.5" y="214.1" width="30" height="3"/><rect x="481.0" y="286.5" width="6" height="34.5"/><rect x="481.0" y="351.0" width="6" height="27.5"/><rect x="472.0" y="285.0" width="27" height="3"/><rect x="472.0" y="377.0" width="27" height="3"/><rect x="612.0" y="298.5" width="6" height="31.0"/><rect x="612.0" y="359.5" width="6" height="22.0"/><rect x="602.5" y="297.0" width="27" height="3"/><rect x="602.5" y="380.0" width="27" height="3"/><rect x="942.0" y="127.5" width="3" height="214.0"/><rect x="942.0" y="371.5" width="3" height="202.8"/><rect x="930.0" y="124.5" width="27" height="6"/><rect x="930.0" y="572.8" width="27" height="3"/><rect x="1268.5" y="235.0" width="3" height="15.0"/><rect x="1268.5" y="280.0" width="3" height="6.7"/><rect x="1256.5" y="232.0" width="27" height="6"/><rect x="1256.5" y="285.2" width="27" height="3"/><rect x="1596.0" y="244.0" width="3" height="1.5"/><rect x="1596.0" y="262.4" width="3" height="11.6"/><rect x="1584.0" y="244.0" width="27" height="3"/><rect x="1584.0" y="260.9" width="27" height="3"/><rect x="1923.0" y="202.0" width="3" height="4.6"/><rect x="1923.0" y="215.4" width="3" height="16.6"/><rect x="1911.0" y="204.6" width="27" height="4"/><rect x="1911.0" y="213.4" width="27" height="4"/><rect x="2250.0" y="150.4" width="5" height="19.0"/><rect x="2250.0" y="199.4" width="5" height="8.8"/><rect x="2237.5" y="148.9" width="30" height="3"/><rect x="2237.5" y="205.2" width="30" height="6"/><rect x="481.0" y="293.0" width="6" height="1.0"/><rect x="481.0" y="331.0" width="6" height="2.5"/><rect x="472.0" y="291.0" width="27" height="6"/><rect x="472.0" y="332.0" width="27" height="3"/><rect x="612.0" y="257.0" width="6" height="14.8"/><rect x="612.0" y="280.6" width="6" height="14.4"/><rect x="602.5" y="270.3" width="27" height="3"/><rect x="602.5" y="279.1" width="27" height="3"/><rect x="1268.5" y="122.7" width="3" height="0.9"/><rect x="1268.5" y="160.2" width="3" height="0.5"/><rect x="1256.5" y="122.1" width="27" height="3"/><rect x="1256.5" y="157.2" width="27" height="6"/><rect x="1596.0" y="151.5" width="3" height="2.5"/><rect x="1596.0" y="192.0" width="3" height="1.0"/><rect x="1584.0" y="148.5" width="27" height="6"/><rect x="1584.0" y="190.0" width="27" height="6"/><rect x="1923.0" y="77.6" width="3" height="6.9"/><rect x="1923.0" y="108.7" width="3" height="6.9"/><rect x="1911.0" y="83.0" width="27" height="3"/><rect x="1911.0" y="107.2" width="27" height="3"/><rect x="2250.0" y="160.8" width="5" height="1.0"/><rect x="2250.0" y="197.8" width="5" height="1.0"/><rect x="2237.5" y="160.3" width="30" height="3"/><rect x="2237.5" y="196.3" width="30" height="3"/></g>
<g id="axes" fill="#000"><rect x="285" y="86" width="6" height="1202"/><rect x="276" y="1258" width="1980" height="6"/><rect x="264" y="1196.0" width="22" height="6"/><rect x="264" y="1072.7" width="22" height="6"/><rect x="264" y="949.3" width="22" height="6"/><rect x="264" y="826.0" width="22" height="6"/><rect x="264" y="702.7" width="22" height="6"/><rect x="264" y="579.3" width="22" height="6"/><rect x="264" y="456.0" width="22" height="6"/><rect x="264" y="332.7" width="22" height="6"/><rect x="264" y="209.3" width="22" height="6"/><rect x="264" y="86.0" width="22" height="6"/><rect x="276" y="1134.3" width="10" height="6"/><rect x="276" y="1011.0" width="10" height="6"/><rect x="276" y="887.7" width="10" height="6"/><rect x="276" y="764.3" width="10" height="6"/><rect x="276" y="641.0" width="10" height="6"/><rect x="276" y="517.7" width="10" height="6"/><rect x="276" y="394.3" width="10" height="6"/><rect x="276" y="271.0" width="10" height="6"/><rect x="276" y="147.7" width="10" height="6"/><rect x="612.1" y="1262" width="6" height="24.5"/><rect x="939.7" y="1262" width="6" height="24.5"/><rect x="1267.2" y="1262" width="6" height="24.5"/><rect x="1594.8" y="1262" width="6" height="24.5"/><rect x="1922.4" y="1262" width="6" height="24.5"/><rect x="2250.0" y="1262" width="6" height="24.5"/><rect x="448.3" y="1262" width="6" height="11"/><rect x="775.9" y="1262" width="6" height="11"/><rect x="1103.5" y="1262" width="6" height="11"/><rect x="1431.0" y="1262" width="6" height="11"/><rect x="1758.6" y="1262" width="6" height="11"/><rect x="2086.2" y="1262" width="6" height="11"/></g>
<g id="legend"><rect x="495.5"  y="1225.2" width="44.5" height="3.4" fill="#00fff0"/><rect x="543.5" y="1213.5" width="27" height="27" fill="#00fff0"/><rect x="576.5"  y="1225.2" width="44.5" height="3.4" fill="#00fff0"/><rect x="832"  y="1225.2" width="44" height="3.4" fill="#ff00ff"/><circle cx="894.0" cy="1226.5" r="16" fill="#ff00ff"/><rect x="912.5"  y="1225.2" width="44.5" height="3.4" fill="#ff00ff"/><rect x="1168"  y="1225.2" width="44" height="3.4" fill="#ff8000"/><polygon points="1232.0,1205.0 1250.7,1237.0 1213.3,1237.0" fill="#ff8000"/><rect x="1251.5"  y="1225.2" width="41.5" height="3.4" fill="#ff8000"/><rect x="1536"  y="1225.2" width="44.5" height="3.4" fill="#009900"/><polygon points="1580.5,1216.5 1617.9,1216.5 1599.2,1246.5" fill="#009900"/><rect x="1617.5"  y="1225.2" width="43.5" height="3.4" fill="#009900"/><rect x="1902"  y="1225.2" width="48" height="3.4" fill="#000080"/><polygon points="1966.0,1207.0 1984.5,1226.5 1966.0,1246.0 1947.5,1226.5" fill="#000080"/><rect x="1982"  y="1225.2" width="44.5" height="3.4" fill="#000080"/></g>
</g>
<g id="labels"><text x="245.5" y="1213.0" text-anchor="end" class="tk">200</text><text x="245.5" y="1089.7" text-anchor="end" class="tk">300</text><text x="245.5" y="966.3" text-anchor="end" class="tk">400</text><text x="245.5" y="843.0" text-anchor="end" class="tk">500</text><text x="245.5" y="719.7" text-anchor="end" class="tk">600</text><text x="245.5" y="596.3" text-anchor="end" class="tk">700</text><text x="245.5" y="473.0" text-anchor="end" class="tk">800</text><text x="245.5" y="349.7" text-anchor="end" class="tk">900</text><text x="245.5" y="226.3" text-anchor="end" class="tk">1000</text><text x="245.5" y="103.0" text-anchor="end" class="tk">1100</text><text x="287.2" y="1344" text-anchor="middle" class="tk">0</text><text x="614.8" y="1344" text-anchor="middle" class="tk">25</text><text x="942.4" y="1344" text-anchor="middle" class="tk">50</text><text x="1270.0" y="1344" text-anchor="middle" class="tk">75</text><text x="1597.5" y="1344" text-anchor="middle" class="tk">100</text><text x="1925.1" y="1344" text-anchor="middle" class="tk">125</text><text x="2252.7" y="1344" text-anchor="middle" class="tk">150</text><text x="1269.5" y="1450.5" text-anchor="middle" class="ti">DT [ms]</text><text transform="translate(94.5,675) rotate(-90)" text-anchor="middle" class="ti">D50 [µm]</text><text x="631.3" y="1243.2" class="lg">66 MPa</text><text x="967.2" y="1243.2" class="lg">98 MPa</text><text x="1307" y="1243.2" class="lg">131 MPa</text><text x="1672.5" y="1243.2" class="lg">161 MPa</text><text x="2039" y="1243.2" class="lg">193 MPa</text></g>
</svg>
</body></html>
